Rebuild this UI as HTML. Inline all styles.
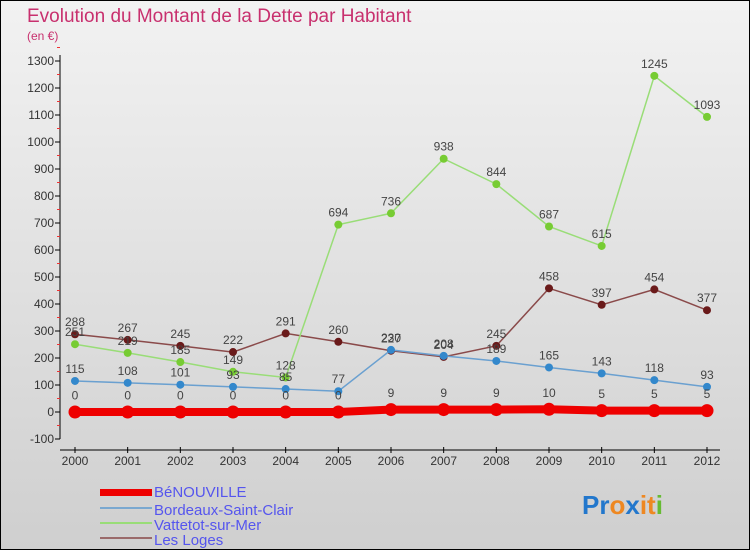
<!DOCTYPE html>
<html><head><meta charset="utf-8"><style>
body{margin:0}
svg{display:block;font-family:"Liberation Sans",sans-serif}
</style></head><body>
<svg width="750" height="550" viewBox="0 0 750 550">
<defs><linearGradient id="bg" x1="0" y1="0" x2="0" y2="1"><stop offset="0" stop-color="#f2f2f2"/><stop offset="1" stop-color="#cfcfcf"/></linearGradient></defs>
<rect x="0.5" y="0.5" width="749" height="549" fill="url(#bg)" stroke="#000"/>
<text x="27" y="22" font-size="19" fill="#c8306e">Evolution du Montant de la Dette par Habitant</text>
<text x="27" y="40" font-size="12" fill="#c8306e">(en €)</text>
<g id="axes"></g>
<g id="series"></g>
<g id="legend" font-size="15" fill="#5555ee">
<rect x="100" y="489" width="52" height="7" fill="#ee0000"/>
<text x="154" y="497">BéNOUVILLE</text>
<line x1="100" y1="508" x2="152" y2="508" stroke="#7aa8d0" stroke-width="2"/>
<text x="154" y="515">Bordeaux-Saint-Clair</text>
<line x1="100" y1="523" x2="152" y2="523" stroke="#99dd77" stroke-width="2"/>
<text x="154" y="530">Vattetot-sur-Mer</text>
<line x1="100" y1="538" x2="152" y2="538" stroke="#9a6a6a" stroke-width="2"/>
<text x="154" y="545">Les Loges</text>
</g>
<g font-size="26" font-weight="bold">
<text x="582" y="514"><tspan fill="#2277cc">Pr</tspan><tspan fill="#ee8822">o</tspan><tspan fill="#2277cc">x</tspan><tspan fill="#ee8822">it</tspan><tspan fill="#66bb33">i</tspan></text>
</g>
</svg>
<script>
const years=["2000","2001","2002","2003","2004","2005","2006","2007","2008","2009","2010","2011","2012"];
const yTicks=[-100,0,100,200,300,400,500,600,700,800,900,1000,1100,1200,1300];
const benouville=[0,0,0,0,0,0,9,9,9,10,5,5,5];
const bordeaux=[115,108,101,93,85,77,230,208,189,165,143,118,93];
const vattetot=[251,219,185,149,128,694,736,938,844,687,615,1245,1093];
const loges=[288,267,245,222,291,260,227,204,245,458,397,454,377];
const NS="http://www.w3.org/2000/svg";
const X=i=>75+i*(707-75)/(years.length-1);
const Y=v=>412-v*(412-61)/1300;
function mk(t,a,p){const e=document.createElementNS(NS,t);for(const k in a)e.setAttribute(k,a[k]);p.appendChild(e);return e;}
const ax=document.getElementById('axes');
let l=mk('line',{x1:60,y1:55,x2:60,y2:Y(-100),stroke:'#000'},ax);


l=mk('line',{x1:60,y1:450,x2:720,y2:450,stroke:'#000'},ax);


yTicks.forEach(v=>{
 mk('line',{x1:55,y1:Y(v),x2:60,y2:Y(v),stroke:'#000'},ax);
 mk('line',{x1:57,y1:Y(v+50),x2:60,y2:Y(v+50),stroke:'#ee3333'},ax);
 const t=mk('text',{x:54,y:Y(v)+4,'font-size':12,fill:'#333','text-anchor':'end'},ax);
 t.textContent=v;
 
 
});
years.forEach((y,i)=>{
 mk('line',{x1:X(i),y1:447,x2:X(i),y2:453,stroke:'#000'},ax);
 const t=mk('text',{x:X(i),y:465,'font-size':12,fill:'#333','text-anchor':'middle'},ax);
 t.textContent=y;
 
 
});
const sg=document.getElementById('series');
function draw(name,data,color,dot,w,r){
 const g=mk('g',{},sg);
 
 
 mk('polyline',{points:data.map((v,i)=>X(i)+','+Y(v)).join(' '),fill:'none',stroke:color,'stroke-width':w},g);
 data.forEach((v,i)=>{
  const c=mk('circle',{cx:X(i),cy:Y(v),r:r,fill:dot},g);
  
  
  const t=mk('text',{x:X(i),y:Y(v)-r-(name==='benouville'?6:4),'font-size':12,fill:'#444','text-anchor':'middle'},g);
  t.textContent=v;
  
  
 });
}
draw('loges',loges,'#8a4a4a','#6a1a1a',1.5,4);
draw('vattetot',vattetot,'#99dd77','#77cc33',1.5,4);
draw('bordeaux',bordeaux,'#6aa0d0','#3388cc',1.5,4);
draw('benouville',benouville,'#ee0000','#ee0000',8,6.5);
</script>
</body></html>
